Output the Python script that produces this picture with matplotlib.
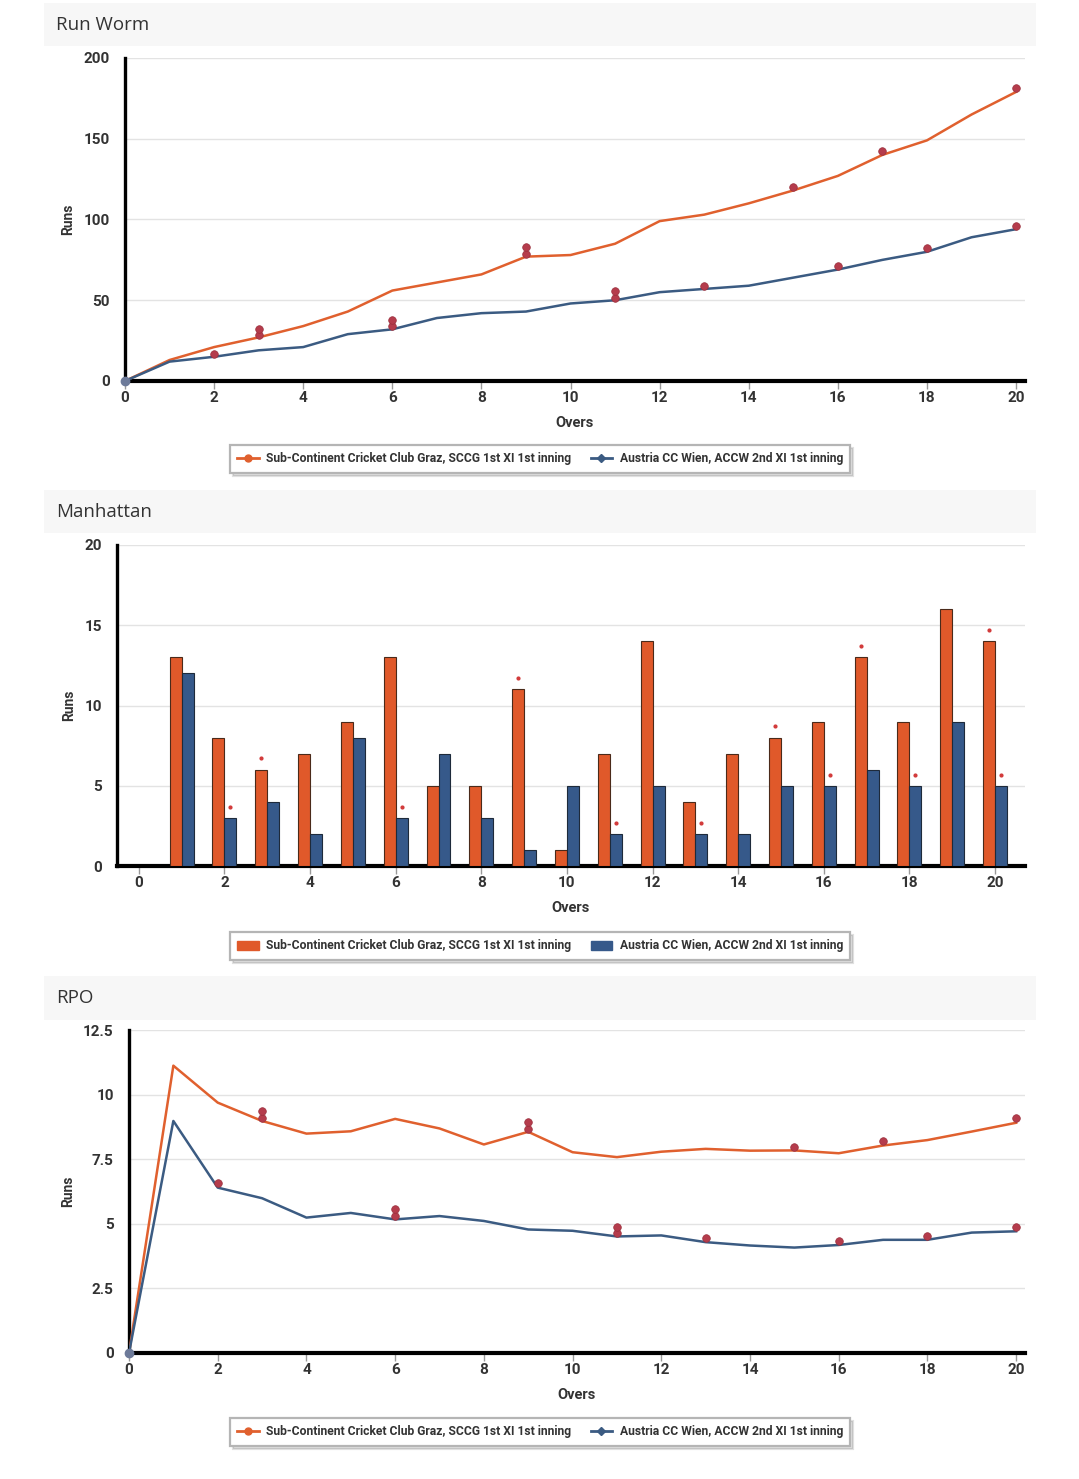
import matplotlib
matplotlib.use("Agg")
import matplotlib.pyplot as plt
from matplotlib.patches import Rectangle
from matplotlib.lines import Line2D
from matplotlib.ticker import FuncFormatter, MultipleLocator

# ---------------- data ----------------
overs = list(range(0, 21))
team_a = "Sub-Continent Cricket Club Graz, SCCG 1st XI 1st inning"
team_b = "Austria CC Wien, ACCW 2nd XI 1st inning"

sccg_cum = [0, 13, 21, 27, 34, 43, 56, 61, 66, 77, 78, 85, 99, 103, 110, 118, 127, 140, 149, 165, 179]
accw_cum = [0, 12, 15, 19, 21, 29, 32, 39, 42, 43, 48, 50, 55, 57, 59, 64, 69, 75, 80, 89, 94]

sccg_worm_wkt_overs = [3, 3, 9, 9, 15, 17, 20]
sccg_worm_wkt_y = [28.4, 32.3, 78.6, 82.7, 120.2, 142.4, 181.6]
accw_worm_wkt_overs = [2, 6, 6, 11, 11, 13, 16, 18, 20]
accw_worm_wkt_y = [17.0, 33.8, 37.9, 51.4, 55.5, 59.1, 71.1, 82.1, 96.2]

bar_overs = list(range(1, 21))
sccg_runs = [13, 8, 6, 7, 9, 13, 5, 5, 11, 1, 7, 14, 4, 7, 8, 9, 13, 9, 16, 14]
accw_runs = [12, 3, 4, 2, 8, 3, 7, 3, 1, 5, 2, 5, 2, 2, 5, 5, 6, 5, 9, 5]
sccg_bar_wkt_overs = [3, 9, 15, 17, 20]
sccg_bar_wkt_y = [6.7, 11.7, 8.7, 13.7, 14.7]
accw_bar_wkt_overs = [2, 6, 11, 13, 16, 18, 20]
accw_bar_wkt_y = [3.7, 3.7, 2.7, 2.7, 5.7, 5.7, 5.7]

sccg_rpo = [0, 11.12, 9.69, 8.98, 8.49, 8.58, 9.06, 8.69, 8.07, 8.56, 7.77,
            7.58, 7.79, 7.90, 7.83, 7.84, 7.73, 8.03, 8.24, 8.57, 8.91]
accw_rpo = [0, 8.98, 6.40, 5.99, 5.24, 5.42, 5.17, 5.30, 5.11, 4.78, 4.73,
            4.51, 4.55, 4.29, 4.16, 4.08, 4.18, 4.38, 4.38, 4.66, 4.71]
sccg_rpo_wkt_overs = [3, 3, 9, 9, 15, 17, 20]
sccg_rpo_wkt_y = [9.11, 9.37, 8.67, 8.93, 7.99, 8.21, 9.08]
accw_rpo_wkt_overs = [2, 6, 6, 11, 11, 13, 16, 18, 20]
accw_rpo_wkt_y = [6.58, 5.29, 5.56, 4.64, 4.89, 4.46, 4.35, 4.53, 4.87]

# ---------------- style ----------------
W, H = 1079, 1479
ORANGE = "#e0592a"
BLUE = "#36598a"
LINE_OR = "#e0602e"
LINE_BL = "#3b5b82"
WKT = "#b53c4c"
TXT = "#333333"
GRID = "#e3e3e3"
plt.rcParams["font.family"] = ["Roboto", "DejaVu Sans"]

fig = plt.figure(figsize=(W / 100, H / 100), dpi=100)
fig.patch.set_facecolor("white")


def rect(l, t, r, b):
    return [l / W, 1 - b / H, (r - l) / W, (b - t) / H]


def header(top, bottom, title):
    fig.patches.append(Rectangle((44 / W, 1 - bottom / H), (1036 - 44) / W, (bottom - top) / H,
                                 transform=fig.transFigure, facecolor="#f7f7f7",
                                 edgecolor="none", zorder=0))
    fig.text(56 / W, 1 - (top + bottom) / 2 / H, title, fontsize=13.5, color="#333333",
             family=["Open Sans", "DejaVu Sans"], va="center", ha="left")


def style_axes(ax, ymax, ystep, xlim):
    ax.set_xlim(*xlim)
    ax.set_ylim(0, ymax)
    ax.yaxis.set_major_locator(MultipleLocator(ystep))
    ax.xaxis.set_major_locator(MultipleLocator(2))
    ax.yaxis.set_major_formatter(FuncFormatter(lambda v, p: f"{v:g}"))
    for s in ["top", "right"]:
        ax.spines[s].set_visible(False)
    ax.spines["left"].set_linewidth(2.4)
    ax.spines["bottom"].set_linewidth(3.0)
    ax.spines["left"].set_color("black")
    ax.spines["bottom"].set_color("black")
    ax.grid(axis="y", color=GRID, lw=1)
    ax.set_axisbelow(True)
    ax.tick_params(axis="y", length=0, pad=11, labelsize=11, labelcolor=TXT)
    ax.tick_params(axis="x", length=6, width=1, color="#999999", pad=1,
                   labelsize=11, labelcolor=TXT)
    for lab in ax.get_xticklabels() + ax.get_yticklabels():
        lab.set_fontweight("bold")
    ax.set_ylabel("Runs", fontsize=10, color=TXT, fontweight="bold", labelpad=6)
    ax.set_xlabel("Overs", fontsize=10.5, color=TXT, fontweight="bold", labelpad=8)


def legend(ax, handles, cy):
    lg = ax.legend(handles=handles, loc="center", bbox_to_anchor=(540 / W, 1 - cy / H),
                   bbox_transform=fig.transFigure, ncol=2, frameon=True, fancybox=False,
                   edgecolor="#b5b5b5", columnspacing=1.6, handlelength=1.8,
                   handletextpad=0.6, borderpad=0.6,
                   prop={"weight": "bold", "size": 8.7},
                   shadow={"ox": 2, "oy": -2, "color": "#000000", "alpha": 0.12})
    lg.get_frame().set_linewidth(1.6)
    for t in lg.get_texts():
        t.set_color(TXT)
    return lg


line_handles = [
    Line2D([], [], color=LINE_OR, marker="o", markersize=5, lw=2, label=team_a),
    Line2D([], [], color=LINE_BL, marker="D", markersize=4, lw=2, label=team_b),
]

# ---------------- Run Worm ----------------
header(3, 46, "Run Worm")
ax1 = fig.add_axes(rect(125, 58, 1025, 381))
ax1.plot(overs, sccg_cum, color=LINE_OR, lw=1.8, zorder=3)
ax1.plot(overs, accw_cum, color=LINE_BL, lw=1.8, zorder=3)
ax1.plot(overs[:1], accw_cum[:1], marker="o", ms=6, color="#6d7a99", zorder=5, clip_on=False)
ax1.scatter(sccg_worm_wkt_overs, sccg_worm_wkt_y, s=30, color=WKT, edgecolor="#9a2f3c",
            lw=0.5, zorder=4)
ax1.scatter(accw_worm_wkt_overs, accw_worm_wkt_y, s=30, color=WKT, edgecolor="#9a2f3c",
            lw=0.5, zorder=4)
style_axes(ax1, 200, 50, (0, 20.2))
legend(ax1, line_handles, 459)

# ---------------- Manhattan ----------------
header(490, 533, "Manhattan")
ax2 = fig.add_axes(rect(117, 545, 1025, 866))
bw = 0.28
ax2.bar([o - bw / 2 for o in bar_overs], sccg_runs, width=bw, color=ORANGE,
        edgecolor="#4a2a1a", lw=0.8, zorder=3, label=team_a)
ax2.bar([o + bw / 2 for o in bar_overs], accw_runs, width=bw, color=BLUE,
        edgecolor="#1e2a3a", lw=0.8, zorder=3, label=team_b)
ax2.scatter([o - bw / 2 for o in sccg_bar_wkt_overs], sccg_bar_wkt_y, s=4, color="#d23a3a",
            zorder=4)
ax2.scatter([o + bw / 2 for o in accw_bar_wkt_overs], accw_bar_wkt_y, s=4, color="#d23a3a",
            zorder=4)
style_axes(ax2, 20, 5, (-0.51, 20.7))
bar_handles = [
    Rectangle((0, 0), 1, 1, color=ORANGE, label=team_a),
    Rectangle((0, 0), 1, 1, color=BLUE, label=team_b),
]
lg2 = legend(ax2, bar_handles, 946)

# ---------------- RPO ----------------
header(976, 1020, "RPO")
ax3 = fig.add_axes(rect(129, 1030, 1025, 1353))
ax3.plot(overs, sccg_rpo, color=LINE_OR, lw=1.8, zorder=3)
ax3.plot(overs, accw_rpo, color=LINE_BL, lw=1.8, zorder=3)
ax3.plot(overs[:1], accw_rpo[:1], marker="o", ms=6, color="#6d7a99", zorder=5, clip_on=False)
ax3.scatter(sccg_rpo_wkt_overs, sccg_rpo_wkt_y, s=30, color=WKT, edgecolor="#9a2f3c",
            lw=0.5, zorder=4)
ax3.scatter(accw_rpo_wkt_overs, accw_rpo_wkt_y, s=30, color=WKT, edgecolor="#9a2f3c",
            lw=0.5, zorder=4)
style_axes(ax3, 12.5, 2.5, (0, 20.2))
legend(ax3, line_handles, 1432)

fig.savefig("out.png", dpi=100, facecolor="white")
